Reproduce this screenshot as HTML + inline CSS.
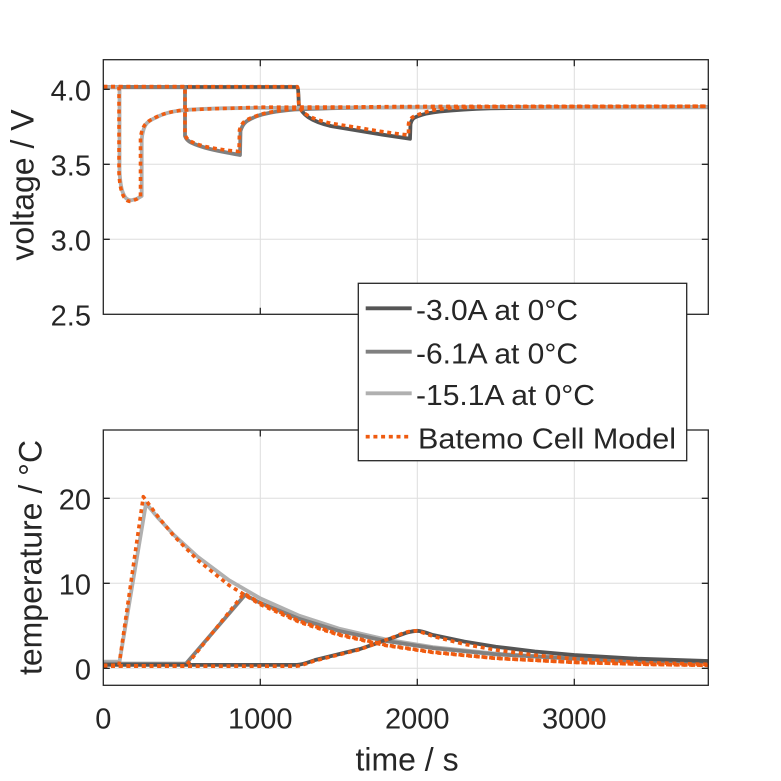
<!DOCTYPE html>
<html><head><meta charset="utf-8"><style>
html,body{margin:0;padding:0;background:#fff;}
svg{display:block;}
text{font-family:"Liberation Sans",Arial,sans-serif;fill:#262626;}
</style></head><body>
<svg width="781" height="781" viewBox="0 0 781 781" xmlns="http://www.w3.org/2000/svg">
<defs>
<clipPath id="c1"><rect x="103.3" y="59.7" width="605" height="254.6"/></clipPath>
<clipPath id="c2"><rect x="103.3" y="430" width="605" height="255.3"/></clipPath>
</defs>
<rect width="781" height="781" fill="#fff"/>

<!-- TOP AXES -->
<g stroke="#dedede" stroke-width="1">
<line x1="260.3" y1="59.7" x2="260.3" y2="314.3"/>
<line x1="417.3" y1="59.7" x2="417.3" y2="314.3"/>
<line x1="574.3" y1="59.7" x2="574.3" y2="314.3"/>
<line x1="103.3" y1="89.3" x2="708.3" y2="89.3"/>
<line x1="103.3" y1="164.3" x2="708.3" y2="164.3"/>
<line x1="103.3" y1="239.3" x2="708.3" y2="239.3"/>
</g>
<g clip-path="url(#c1)" fill="none" stroke-linejoin="round">
<path stroke="#555555" stroke-width="3.8" d="M103.3,87 L297.3,87 C298.5,88 298.5,100 299,106 C301,111 304,114 308,117 C314,121 322,124 332,126.3 C345,128.5 360,131 380,134.3 C395,136.5 405,138 410,138.8 L410.5,124 C411.5,120 413,118 417,116.5 C422,114.5 430,112.5 440,111.5 C455,110 470,109 490,108.3 L550,107.5 L709,107.2"/>
<path stroke="#808080" stroke-width="3.8" d="M103.3,87 L185,87 L185,136 C186,139 188,141 191,142.5 C196,145 202,147 210,149 C220,151.5 230,153 240,155 L240.5,131 C242,126 244,123 247,121 C251,118.5 255,116.5 262,114.5 C270,112.5 282,110.5 295,109.5 C320,108.3 360,107.6 400,107.3 L709,107"/>
<path stroke="#b0b0b0" stroke-width="3.8" d="M103.3,87 L119.5,87 L119.5,170 C120,182 121,188 123,193 C125,198 127,200 131,200.3 L137,198.8 L141.7,196 L141.7,140 C142,134 144,126 147,123 C150,120 153,119 158,116.5 C165,113 172,111.5 180,110.5 C195,109 210,108.6 230,108.2 L300,107.6 L450,107.2 L709,107"/>
<g stroke="#ef5b10" stroke-width="3.6" stroke-dasharray="4 3.7">
<path d="M103.3,86.7 L297.3,86.7 C298.3,88 298.3,100 299,106 C301,111 304,113 308,115.5 C314,119 322,121.5 332,123.5 C345,125.5 360,128 380,131.3 C395,133.5 403,134.5 408.5,135 L408.5,124 C409.5,119 412,117 416,115.5 C421,113.5 428,111 437,109.5 C450,108 465,107.2 490,106.8 L709,106.3"/>
<path d="M103.3,86.7 L185,86.7 L185,134 C186,138 188,140 191,141.5 C196,144 202,146 210,147.5 C220,149.5 230,150.7 239,151.5 L239.5,130 C241,125 243,122 246,120.5 C250,118 256,116 262,114 C272,111.5 285,109.5 300,108.5 C330,107.5 370,106.8 400,106.5 L709,106.3"/>
<path d="M103.3,86.7 L119,86.7 L119,172 C119.5,184 121,192 124,197 C126,200 128,201.5 131,201.5 L137,199 L140.5,196.5 L140.5,138 C141.5,131 143,126 147,122.5 C150,120 153,118.5 157,116.7 C165,113 175,110.5 187,110 C200,109.2 215,108.6 230,108.3 L260,107.2 L709,106.2"/>
</g>
</g>
<g stroke="#262626" stroke-width="1.3" fill="none">
<rect x="103.3" y="59.7" width="605" height="254.6"/>
<path d="M260.3,59.7v6.5 M417.3,59.7v6.5 M574.3,59.7v6.5 M260.3,314.3v-6.5 M417.3,314.3v-6.5 M574.3,314.3v-6.5 M103.3,89.3h6.5 M103.3,164.3h6.5 M103.3,239.3h6.5 M708.3,89.3h-6.5 M708.3,164.3h-6.5 M708.3,239.3h-6.5"/>
</g>
<g font-size="29" text-anchor="end">
<text x="91" y="100.3">4.0</text>
<text x="91" y="175.3">3.5</text>
<text x="91" y="250.3">3.0</text>
<text x="91" y="325.3">2.5</text>
</g>
<text font-size="32" text-anchor="middle" transform="translate(33.3,185) rotate(-90)">voltage / V</text>

<!-- BOTTOM AXES -->
<g stroke="#dedede" stroke-width="1">
<line x1="260.3" y1="430" x2="260.3" y2="685.3"/>
<line x1="417.3" y1="430" x2="417.3" y2="685.3"/>
<line x1="574.3" y1="430" x2="574.3" y2="685.3"/>
<line x1="103.3" y1="498.3" x2="708.3" y2="498.3"/>
<line x1="103.3" y1="583.3" x2="708.3" y2="583.3"/>
<line x1="103.3" y1="668.3" x2="708.3" y2="668.3"/>
</g>
<g clip-path="url(#c2)" fill="none" stroke-linejoin="round">
<path stroke="#b0b0b0" stroke-width="3.8" d="M103.3,661.7 L119.5,661.7 L146,503.4 L158.25,518.1 L173.95,535.0 L197.5,556.7 L228.9,580.2 L260.3,598.4 L299.55,615.8 L338.8,628.6 L385.9,639.5 L433,647.1 L495.8,653.7 L574.3,658.4 L652.8,661.0 L709,662.1"/>
<path stroke="#808080" stroke-width="3.8" d="M103.3,663.6 L186,663.6 L245,595 L260.3,602.9 L299.55,619.0 L338.8,630.9 L385.9,641.0 L433,648.1 L495.8,654.3 L574.3,658.7 L652.8,661.2 L709,662.2"/>
<path stroke="#555555" stroke-width="3.8" d="M103.3,664.9 L297,664.9 C303,664.5 308,662.5 315,660 L360,649 L395,637 C405,633 411,631 417.3,630.8 C422,631 427,633 433,635.0 L464.4,641.6 L495.8,646.7 L535.05,651.5 L574.3,655.0 L637.1,658.7 L709,661.1"/>
<g stroke="#ef5b10" stroke-width="3.6" stroke-dasharray="4 3.7">
<path d="M103.3,665.3 L119,665.3 L143.3,496.7 L158.25,517.0 L173.95,536.0 L197.5,559.9 L228.9,585.2 L260.3,604.5 L299.55,622.2 L338.8,635.0 L385.9,645.5 L433,652.5 L495.8,658.4 L574.3,662.4 L652.8,664.5 L709,665.3"/>
<path d="M103.3,665.8 L186,665.8 L244,593.5 L260.3,603.0 L299.55,621.2 L338.8,634.2 L385.9,645.0 L433,652.1 L495.8,658.2 L574.3,662.3 L652.8,664.4 L709,665.3"/>
<path d="M103.3,666.2 L296,666.2 C302,665.5 307,663.5 314,661 L360,649.5 L395,636.5 C404,632.5 409,631 415.6,630.8 C420,631.5 426,633.8 433,636.3 L464.4,644.2 L495.8,650.0 L535.05,655.2 L574.3,658.8 L637.1,662.3 L709,664.4"/>
</g>
</g>
<g stroke="#262626" stroke-width="1.3" fill="none">
<rect x="103.3" y="430" width="605" height="255.3"/>
<path d="M260.3,430v6.5 M417.3,430v6.5 M574.3,430v6.5 M260.3,685.3v-6.5 M417.3,685.3v-6.5 M574.3,685.3v-6.5 M103.3,498.3h6.5 M103.3,583.3h6.5 M103.3,668.3h6.5 M708.3,498.3h-6.5 M708.3,583.3h-6.5 M708.3,668.3h-6.5"/>
</g>
<g font-size="29" text-anchor="end">
<text x="91" y="509.3">20</text>
<text x="91" y="594.3">10</text>
<text x="91" y="679.3">0</text>
</g>
<g font-size="29" text-anchor="middle">
<text x="103.3" y="728.3">0</text>
<text x="260.3" y="728.3">1000</text>
<text x="417.3" y="728.3">2000</text>
<text x="574.3" y="728.3">3000</text>
</g>
<text font-size="32" text-anchor="middle" transform="translate(41.7,557.5) rotate(-90)">temperature / °C</text>
<text font-size="32" text-anchor="middle" x="407" y="770.7">time / s</text>

<!-- LEGEND -->
<rect x="358.3" y="283.3" width="328.4" height="177.4" fill="#fff" stroke="#262626" stroke-width="1.3"/>
<line x1="365.7" y1="308.3" x2="411.7" y2="308.3" stroke="#555555" stroke-width="3.8"/>
<line x1="365.7" y1="351.7" x2="411.7" y2="351.7" stroke="#808080" stroke-width="3.8"/>
<line x1="365.7" y1="393.3" x2="411.7" y2="393.3" stroke="#b0b0b0" stroke-width="3.8"/>
<line x1="365.7" y1="436.7" x2="411.7" y2="436.7" stroke="#ef5b10" stroke-width="3.6" stroke-dasharray="4 3.7"/>
<g font-size="29">
<text x="416" y="320" textLength="162" lengthAdjust="spacingAndGlyphs">-3.0A at 0°C</text>
<text x="416" y="363.3" textLength="162" lengthAdjust="spacingAndGlyphs">-6.1A at 0°C</text>
<text x="416" y="405" textLength="179" lengthAdjust="spacingAndGlyphs">-15.1A at 0°C</text>
<text x="418" y="448.3" textLength="258" lengthAdjust="spacingAndGlyphs">Batemo Cell Model</text>
</g>
</svg>
</body></html>
